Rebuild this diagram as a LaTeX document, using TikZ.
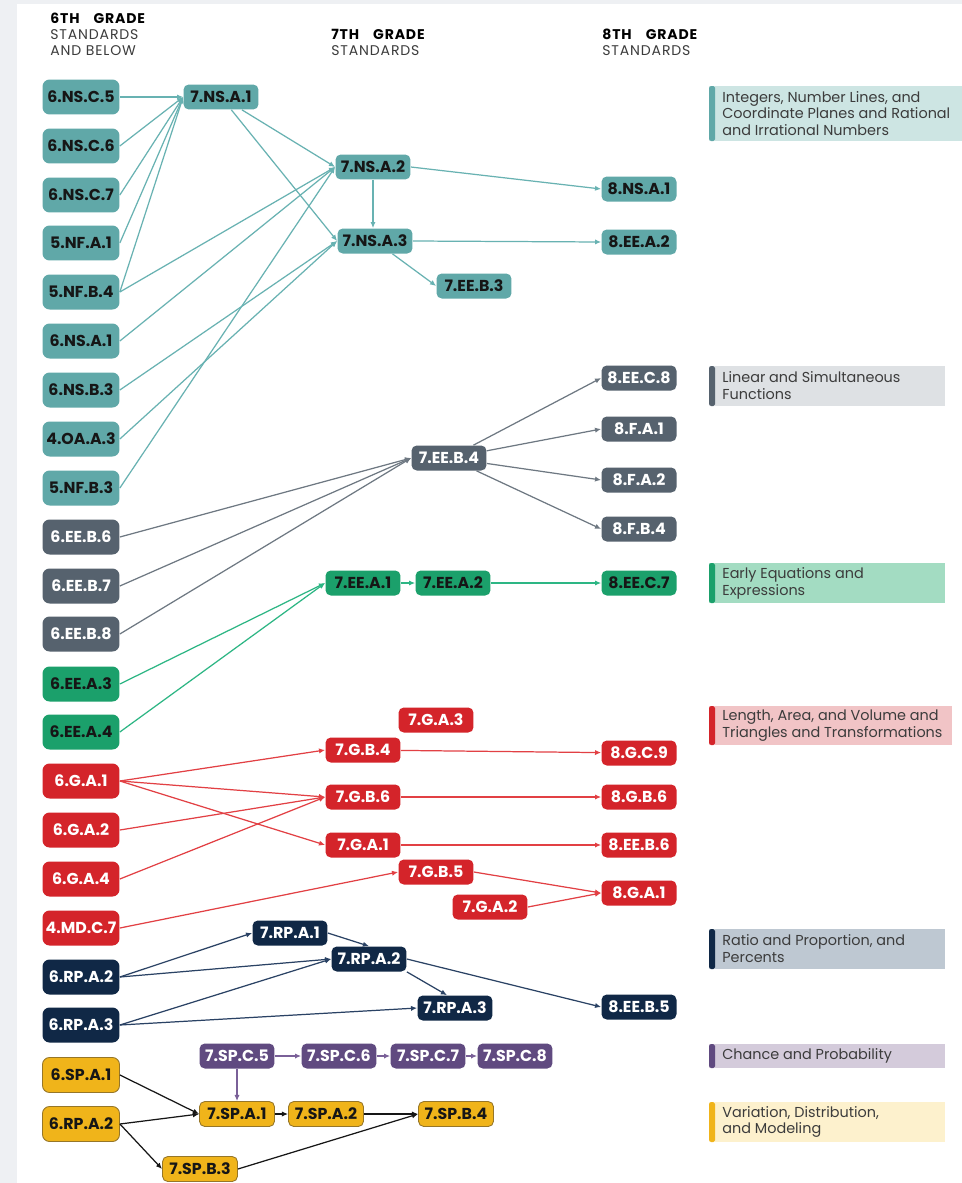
\documentclass[tikz,border=0pt]{standalone}
\usepackage{fontspec}
\setmainfont{Poppins}
\usetikzlibrary{arrows.meta}
\definecolor{bgC}{RGB}{238,240,243}
\definecolor{tlC}{RGB}{96,168,168}
\definecolor{tlL}{RGB}{104,178,178}
\definecolor{tlP}{RGB}{205,229,227}
\definecolor{slC}{RGB}{86,98,110}
\definecolor{slL}{RGB}{110,120,130}
\definecolor{slP}{RGB}{222,225,228}
\definecolor{grC}{RGB}{27,160,107}
\definecolor{grL}{RGB}{45,182,132}
\definecolor{grP}{RGB}{163,220,194}
\definecolor{rdC}{RGB}{212,36,42}
\definecolor{rdL}{RGB}{226,64,68}
\definecolor{rdP}{RGB}{241,196,198}
\definecolor{nvC}{RGB}{16,40,70}
\definecolor{nvL}{RGB}{42,66,100}
\definecolor{nvP}{RGB}{190,200,210}
\definecolor{puC}{RGB}{96,74,128}
\definecolor{puL}{RGB}{122,96,152}
\definecolor{puP}{RGB}{212,203,219}
\definecolor{ylC}{RGB}{240,180,26}
\definecolor{ylB}{RGB}{150,118,40}
\definecolor{ylP}{RGB}{253,241,205}
\definecolor{txD}{RGB}{22,22,22}
\definecolor{txG}{RGB}{60,60,60}
\tikzset{
  stdbox/.style={inner sep=0pt,font=\bfseries\fontsize{9}{9}\selectfont},
  bigbox/.style={stdbox,minimum width=1.54cm,minimum height=0.7cm,rounded corners=4pt},
  smlbox/.style={stdbox,minimum width=1.5cm,minimum height=0.5cm,rounded corners=3pt},
  tl/.style={fill=tlC,text=txD},
  sl/.style={fill=slC,text=white},
  gr/.style={fill=grC,text=txD},
  rd/.style={fill=rdC,text=white},
  nv/.style={fill=nvC,text=white},
  pu/.style={fill=puC,text=white},
  yl/.style={fill=ylC,draw=ylB,line width=0.5pt,text=txD},
  lk/.style={-{Latex[length=3.5pt,width=3pt]},line width=0.7pt},
  hd/.style={anchor=north west,align=left,inner sep=0pt,text=txG,font=\fontsize{8}{8}\selectfont\addfontfeatures{LetterSpace=6}},
  lg/.style={anchor=west,align=left,inner sep=0pt,text=txG,font=\fontsize{8.2}{9.6}\selectfont},
}
\begin{document}
\begin{tikzpicture}[x=0.02cm,y=-0.02cm]
\useasboundingbox (0,0) rectangle (962,1183);
\fill[bgC] (0,0) rectangle (962,1183);
\fill[white] (17,4) rectangle (962,1183);
\node[hd] (h6) at (50,13) {\textbf{\color{black}6TH\quad GRADE}\\[1pt]STANDARDS\\[1pt]AND BELOW};
\node[hd] (h7) at (331,29) {\textbf{\color{black}7TH\quad GRADE}\\[1pt]STANDARDS};
\node[hd] (h8) at (602,29) {\textbf{\color{black}8TH\quad GRADE}\\[1pt]STANDARDS};
\fill[tlP] (709,86) rectangle (962,141);
\fill[tlC,rounded corners=1pt] (709,86) rectangle (715,141);
\node[lg] (lgint) at (722,113.5) {Integers, Number Lines, and\\Coordinate Planes and Rational\\and Irrational Numbers};
\fill[slP] (709,366) rectangle (945,406);
\fill[slC,rounded corners=1pt] (709,366) rectangle (715,406);
\node[lg] (lglin) at (722,386) {Linear and Simultaneous\\Functions};
\fill[grP] (709,563) rectangle (945,603);
\fill[grC,rounded corners=1pt] (709,563) rectangle (715,603);
\node[lg] (lgeq) at (722,583) {Early Equations and\\Expressions};
\fill[rdP] (709,706) rectangle (952,745);
\fill[rdC,rounded corners=1pt] (709,706) rectangle (715,745);
\node[lg] (lglen) at (722,725.5) {Length, Area, and Volume and\\Triangles and Transformations};
\fill[nvP] (709,929) rectangle (945,969);
\fill[nvC,rounded corners=1pt] (709,929) rectangle (715,969);
\node[lg] (lgrat) at (722,949) {Ratio and Proportion, and\\Percents};
\fill[puP] (709,1044) rectangle (945,1068);
\fill[puC,rounded corners=1pt] (709,1044) rectangle (715,1068);
\node[lg] (lgch) at (722,1056) {Chance and Probability};
\fill[ylP] (709,1102) rectangle (945,1142);
\fill[ylC,rounded corners=1pt] (709,1102) rectangle (715,1142);
\node[lg] (lgvar) at (722,1122) {Variation, Distribution,\\and Modeling};
\node[bigbox,tl] (g6nsc5) at (81,97) {6.NS.C.5};
\node[bigbox,tl] (g6nsc6) at (81,146) {6.NS.C.6};
\node[bigbox,tl] (g6nsc7) at (81,195) {6.NS.C.7};
\node[bigbox,tl] (g5nfa1) at (81,243) {5.NF.A.1};
\node[bigbox,tl] (g5nfb4) at (81,292) {5.NF.B.4};
\node[bigbox,tl] (g6nsa1) at (81,341) {6.NS.A.1};
\node[bigbox,tl] (g6nsb3) at (81,390) {6.NS.B.3};
\node[bigbox,tl] (g4oaa3) at (81,439) {4.OA.A.3};
\node[bigbox,tl] (g5nfb3) at (81,488) {5.NF.B.3};
\node[bigbox,sl] (g6eeb6) at (81,537) {6.EE.B.6};
\node[bigbox,sl] (g6eeb7) at (81,586) {6.EE.B.7};
\node[bigbox,sl] (g6eeb8) at (81,634) {6.EE.B.8};
\node[bigbox,gr] (g6eea3) at (81,684) {6.EE.A.3};
\node[bigbox,gr] (g6eea4) at (81,732) {6.EE.A.4};
\node[bigbox,rd] (g6ga1) at (81,781) {6.G.A.1};
\node[bigbox,rd] (g6ga2) at (81,830) {6.G.A.2};
\node[bigbox,rd] (g6ga4) at (81,879) {6.G.A.4};
\node[bigbox,rd] (g4mdc7) at (81,928) {4.MD.C.7};
\node[bigbox,nv] (g6rpa2) at (81,977) {6.RP.A.2};
\node[bigbox,nv] (g6rpa3) at (81,1025) {6.RP.A.3};
\node[bigbox,yl] (g6spa1) at (81,1075) {6.SP.A.1};
\node[bigbox,yl] (g6rpa2y) at (81,1124) {6.RP.A.2};
\node[smlbox,tl] (g7nsa1) at (221,97) {7.NS.A.1};
\node[smlbox,tl] (g7nsa2) at (373,167) {7.NS.A.2};
\node[smlbox,tl] (g7nsa3) at (375,241) {7.NS.A.3};
\node[smlbox,tl] (g7eeb3) at (474,286) {7.EE.B.3};
\node[smlbox,tl] (g8nsa1) at (639,189) {8.NS.A.1};
\node[smlbox,tl] (g8eea2) at (639,242) {8.EE.A.2};
\node[smlbox,sl] (g7eeb4) at (449,458) {7.EE.B.4};
\node[smlbox,sl] (g8eec8) at (639,378) {8.EE.C.8};
\node[smlbox,sl] (g8fa1) at (639,429) {8.F.A.1};
\node[smlbox,sl] (g8fa2) at (639,480) {8.F.A.2};
\node[smlbox,sl] (g8fb4) at (639,529) {8.F.B.4};
\node[smlbox,gr] (g7eea1) at (363,583) {7.EE.A.1};
\node[smlbox,gr] (g7eea2) at (453,583) {7.EE.A.2};
\node[smlbox,gr] (g8eec7) at (639,583) {8.EE.C.7};
\node[smlbox,rd] (g7ga3) at (436,720) {7.G.A.3};
\node[smlbox,rd] (g7gb4) at (363,750) {7.G.B.4};
\node[smlbox,rd] (g7gb6) at (363,797) {7.G.B.6};
\node[smlbox,rd] (g7ga1) at (363,845) {7.G.A.1};
\node[smlbox,rd] (g7gb5) at (436,872) {7.G.B.5};
\node[smlbox,rd] (g7ga2) at (490,907) {7.G.A.2};
\node[smlbox,rd] (g8gc9) at (639,753) {8.G.C.9};
\node[smlbox,rd] (g8gb6) at (639,797) {8.G.B.6};
\node[smlbox,rd] (g8eeb6) at (639,845) {8.EE.B.6};
\node[smlbox,rd] (g8ga1) at (639,893) {8.G.A.1};
\node[smlbox,nv] (g7rpa1) at (290,933) {7.RP.A.1};
\node[smlbox,nv] (g7rpa2) at (369,959) {7.RP.A.2};
\node[smlbox,nv] (g7rpa3) at (455,1008) {7.RP.A.3};
\node[smlbox,nv] (g8eeb5) at (639,1007) {8.EE.B.5};
\node[smlbox,pu] (g7spc5) at (237,1056) {7.SP.C.5};
\node[smlbox,pu] (g7spc6) at (339,1056) {7.SP.C.6};
\node[smlbox,pu] (g7spc7) at (428,1056) {7.SP.C.7};
\node[smlbox,pu] (g7spc8) at (515,1056) {7.SP.C.8};
\node[smlbox,yl] (g7spa1) at (237,1114) {7.SP.A.1};
\node[smlbox,yl] (g7spa2) at (326,1114) {7.SP.A.2};
\node[smlbox,yl] (g7spb4) at (456,1114) {7.SP.B.4};
\node[smlbox,yl] (g7spb3) at (200,1169) {7.SP.B.3};
\begin{scope}[tlL]
\draw[lk] (g6nsc5.east)--(g7nsa1.west);
\draw[lk] (g6nsc6.east)--(g7nsa1.west);
\draw[lk] (g6nsc7.east)--(g7nsa1.west);
\draw[lk] (g5nfa1.east)--(g7nsa1.west);
\draw[lk] (g5nfb4.east)--(g7nsa1.west);
\draw[lk] (g5nfb4.east)--(g7nsa2.west);
\draw[lk] (g6nsa1.east)--(g7nsa2.west);
\draw[lk] (g6nsb3.east)--(g7nsa3.west);
\draw[lk] (g4oaa3.east)--(g7nsa3.west);
\draw[lk] (g5nfb3.east)--(g7nsa2.west);
\draw[lk] (g7nsa1)--(g7nsa2.west);
\draw[lk] (g7nsa1)--(g7nsa3.west);
\draw[lk] (g7nsa2.south)--(g7nsa2.south|-g7nsa3.north);
\draw[lk] (g7nsa2.east)--(g8nsa1.west);
\draw[lk] (g7nsa3.east)--(g8eea2.west);
\draw[lk] (g7nsa3)--(g7eeb3.west);
\end{scope}
\begin{scope}[slL]
\draw[lk] (g6eeb6.east)--(g7eeb4.west);
\draw[lk] (g6eeb7.east)--(g7eeb4.west);
\draw[lk] (g6eeb8.east)--(g7eeb4.west);
\draw[lk] (g7eeb4)--(g8eec8.west);
\draw[lk] (g7eeb4)--(g8fa1.west);
\draw[lk] (g7eeb4)--(g8fa2.west);
\draw[lk] (g7eeb4)--(g8fb4.west);
\end{scope}
\begin{scope}[grL]
\draw[lk] (g6eea3.east)--(g7eea1.west);
\draw[lk] (g6eea4.east)--(g7eea1.west);
\draw[lk] (g7eea1)--(g7eea2);
\draw[lk] (g7eea2)--(g8eec7);
\end{scope}
\begin{scope}[rdL]
\draw[lk] (g6ga1.east)--(g7gb4.west);
\draw[lk] (g6ga1.east)--(g7gb6.west);
\draw[lk] (g6ga1.east)--(g7ga1.west);
\draw[lk] (g6ga2.east)--(g7gb6.west);
\draw[lk] (g6ga4.east)--(g7gb6.west);
\draw[lk] (g4mdc7.east)--(g7gb5.west);
\draw[lk] (g7gb4)--(g8gc9);
\draw[lk] (g7gb6)--(g8gb6);
\draw[lk] (g7ga1)--(g8eeb6);
\draw[lk] (g7gb5.east)--(g8ga1.west);
\draw[lk] (g7ga2.east)--(g8ga1.west);
\end{scope}
\begin{scope}[nvL]
\draw[lk] (g6rpa2.east)--(g7rpa1.west);
\draw[lk] (g6rpa2.east)--(g7rpa2.west);
\draw[lk] (g6rpa3.east)--(g7rpa2.west);
\draw[lk] (g6rpa3.east)--(g7rpa3.west);
\draw[lk] (g7rpa1.east)--(g7rpa2.north);
\draw[lk] (g7rpa2.south east)--([xshift=-0.16cm]g7rpa3.north);
\draw[lk] (g7rpa2.east)--(g8eeb5.west);
\end{scope}
\begin{scope}[puL]
\draw[lk] (g7spc5)--(g7spc6);
\draw[lk] (g7spc6)--(g7spc7);
\draw[lk] (g7spc7)--(g7spc8);
\draw[lk] (g7spc5.south)--(g7spa1.north);
\end{scope}
\begin{scope}[txD]
\draw[lk] (g6spa1.east)--(g7spa1.west);
\draw[lk] (g6rpa2y.east)--(g7spa1.west);
\draw[lk] (g6rpa2y.east)--(g7spb3.west);
\draw[lk] (g7spa1)--(g7spa2);
\draw[lk] (g7spa2)--(g7spb4);
\draw[lk] (g7spb3.east)--(g7spb4.west);
\end{scope}
\end{tikzpicture}
\end{document}
